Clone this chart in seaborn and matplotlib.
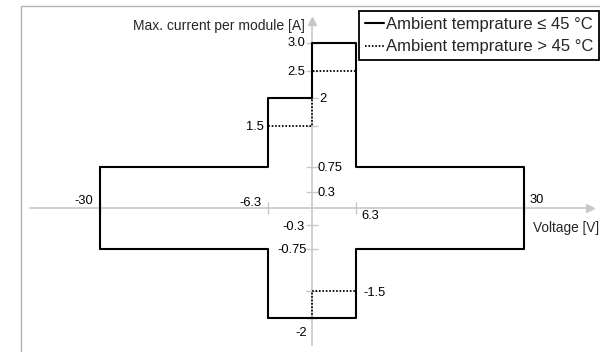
import matplotlib
matplotlib.use("Agg")
import matplotlib.pyplot as plt
from matplotlib import font_manager
from matplotlib.patches import Rectangle
import seaborn as sns
import pandas as pd

# ---------------- data ----------------
solid_v = [-30, -6.3, -6.3, 0, 0, 6.3, 6.3, 30, 30, 6.3, 6.3, -6.3, -6.3, -30, -30]
solid_i = [0.75, 0.75, 2, 2, 3, 3, 0.75, 0.75, -0.75, -0.75, -2, -2, -0.75, -0.75, 0.75]
dotted_v = [-30, -6.3, -6.3, 0, 0, 6.3, 6.3, 30, 30, 6.3, 6.3, 0, 0, -6.3, -6.3, -30, -30]
dotted_i = [0.75, 0.75, 1.5, 1.5, 2.5, 2.5, 0.75, 0.75, -0.75, -0.75, -1.5, -1.5, -2, -2, -0.75, -0.75, 0.75]
series_labels = ["Ambient temprature \u2264 45 \u00b0C", "Ambient temprature > 45 \u00b0C"]

xtick_vals = [-30, -6.3, 6.3, 30]
xtick_labels = ["-30", "-6.3", "6.3", "30"]
ytick_vals = [3.0, 2.5, 2, 1.5, 0.75, 0.3, -0.3, -0.75, -1.5, -2]
ytick_labels = ["3.0", "2.5", "2", "1.5", "0.75", "0.3", "-0.3", "-0.75", "-1.5", "-2"]
x_title = "Voltage [V]"
y_title = "Max. current per module [A]"

# ---------------- style ----------------
sns.set_theme(style="white")
names = {f.name for f in font_manager.fontManager.ttflist}
if "Liberation Sans Narrow" in names:
    fam = "Liberation Sans Narrow"
    fs_tick, fs_title, fs_leg = 10.5, 11.5, 14
else:
    fam = "Liberation Sans"
    fs_tick, fs_title, fs_leg = 9.3, 10.0, 12.0
plt.rcParams["font.family"] = [fam, "DejaVu Sans"]

AX_GRAY = "#c8c8c8"

fig = plt.figure(figsize=(6, 3.52), dpi=100)
ax = fig.add_axes([0, 0, 1, 1])
ax.set_xlim(-312 / 7.06, 288 / 7.06)
ax.set_ylim(-144 / 55, 208 / 55)

# axes through origin
for side in ["top", "right"]:
    ax.spines[side].set_visible(False)
ax.spines["left"].set_position(("data", 0))
ax.spines["bottom"].set_position(("data", 0))
ax.spines["left"].set_bounds(-2.49, 3.35)
ax.spines["bottom"].set_bounds(-39.9, 39.0)
for side in ["left", "bottom"]:
    ax.spines[side].set_color(AX_GRAY)
    ax.spines[side].set_linewidth(1.2)
    ax.spines[side].set_zorder(1)
ax.set_xticks(xtick_vals)
ax.set_yticks(ytick_vals)
ax.tick_params(axis="x", which="major", bottom=True, top=False, direction="inout",
               length=9, width=1.0, color=AX_GRAY, labelbottom=False)
ax.tick_params(axis="y", which="major", left=True, right=False, direction="inout",
               length=8, width=1.0, color=AX_GRAY, labelleft=False)
# arrow heads
ax.plot([39.4], [0], marker=">", ms=6, color=AX_GRAY, clip_on=False, zorder=1)
ax.plot([0], [3.40], marker="^", ms=6, color=AX_GRAY, clip_on=False, zorder=1)

# data lines
df_d = pd.DataFrame({"v": dotted_v, "i": dotted_i})
df_s = pd.DataFrame({"v": solid_v, "i": solid_i})
sns.lineplot(data=df_s, x="v", y="i", sort=False, estimator=None, ax=ax,
             color="black", lw=1.5, label=series_labels[0], zorder=3)
sns.lineplot(data=df_d, x="v", y="i", sort=False, estimator=None, ax=ax,
             color="black", lw=1.3, dashes=False, linestyle=(0, (0.9, 1.0)),
             label=series_labels[1], zorder=4)
ax.set_xlabel("")
ax.set_ylabel("")

# tick labels (placement layout)
y_layout = {
    "3.0": ((0, 3.0), (-7, -0.5), "right"),
    "2.5": ((0, 2.5), (-6.5, -1.2), "right"),
    "2": ((0, 2), (7, -1), "left"),
    "1.5": ((-6.3, 1.5), (-4, -1.5), "right"),
    "0.75": ((0, 0.75), (5.7, -1.3), "left"),
    "0.3": ((0, 0.3), (5.7, -1.5), "left"),
    "-0.3": ((0, -0.3), (-7, -2), "right"),
    "-0.75": ((0, -0.75), (-5.5, -0.8), "right"),
    "-1.5": ((6.3, -1.5), (6.5, -2.5), "left"),
    "-2": ((0, -2), (-5.5, -14.7), "right"),
}
for v, lab in zip(ytick_vals, ytick_labels):
    anchor, off, ha = y_layout[lab]
    ax.annotate(lab, xy=anchor, xytext=off, textcoords="offset pixels",
                ha=ha, va="center", fontsize=fs_tick, color="black")
x_layout = {
    "-30": ((-7, 7.3), "right"),
    "-6.3": ((-6, 5), "right"),
    "6.3": ((5, -7.7), "left"),
    "30": ((6, 8), "left"),
}
for v, lab in zip(xtick_vals, xtick_labels):
    off, ha = x_layout[lab]
    ax.annotate(lab, xy=(v, 0), xytext=off, textcoords="offset pixels",
                ha=ha, va="center", fontsize=fs_tick, color="black")

ax.annotate(x_title, xy=(30, 0), xytext=(9, -20), textcoords="offset pixels",
            ha="left", va="center", fontsize=fs_tick + 0.5)
ax.annotate(y_title, xy=(0, 3.309), xytext=(-7, 0), textcoords="offset pixels",
            ha="right", va="center", fontsize=fs_title)

# legend
h, l = ax.get_legend_handles_labels()
order = [l.index(series_labels[0]), l.index(series_labels[1])]
leg = ax.legend([h[k] for k in order], [l[k] for k in order],
                loc="upper right", bbox_to_anchor=(599 / 600, 1 - 11 / 352),
                bbox_transform=fig.transFigure, borderaxespad=0,
                fontsize=fs_leg, frameon=True, fancybox=False, framealpha=1,
                edgecolor="black", handlelength=1.15, handletextpad=0.1,
                borderpad=0.35, labelspacing=0.45)
leg.get_frame().set_linewidth(1.3)

# outer frame (top & left visible)
fig.patches.append(Rectangle((21 / 600, -0.5), 2, 1.5 - 6 / 352,
                             transform=fig.transFigure, fill=False,
                             edgecolor="#b4b4b4", lw=1.0))

fig.savefig("out.png", dpi=100)
